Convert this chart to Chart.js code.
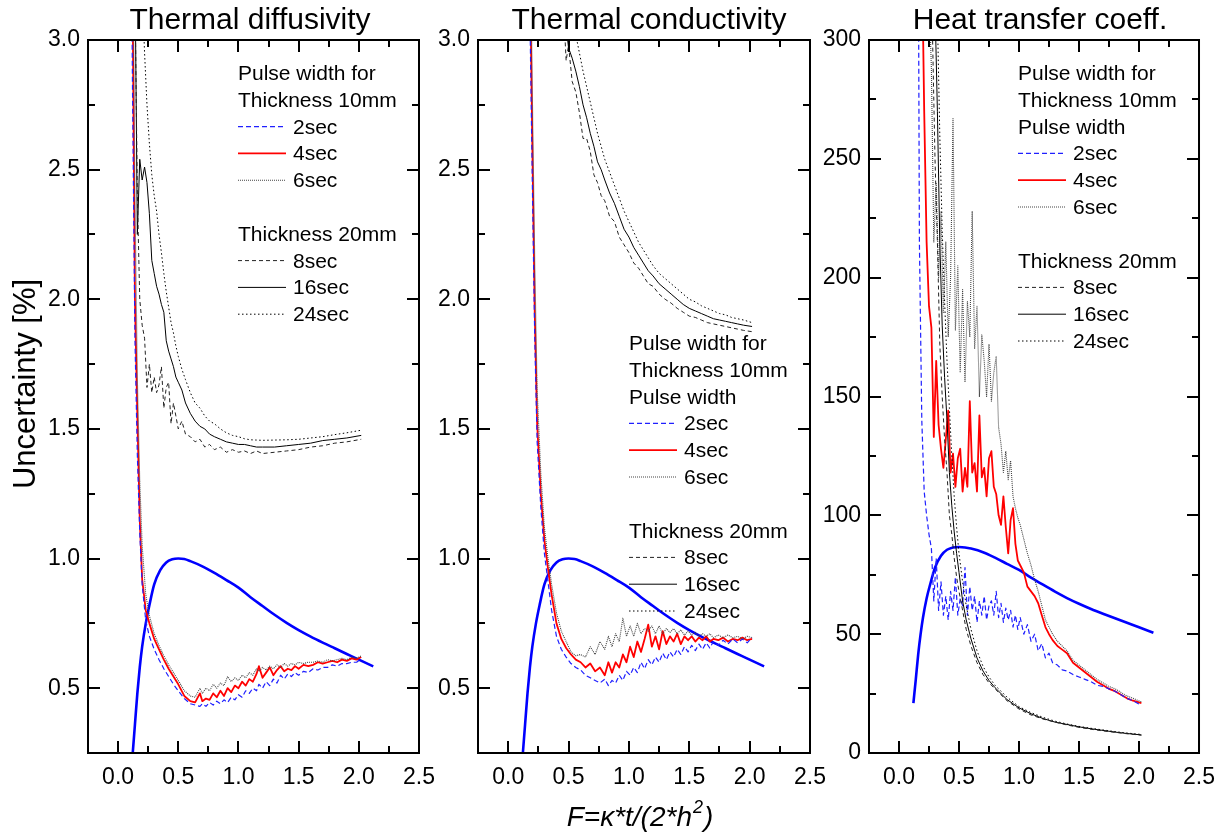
<!DOCTYPE html>
<html>
<head>
<meta charset="utf-8">
<script src="https://cdn.jsdelivr.net/npm/chart.js@4.4.1/dist/chart.umd.min.js"></script>
<style>
  html, body { margin: 0; padding: 0; background: #fff; }
  #wrap { position: relative; width: 1226px; height: 834px; }
  #wrap canvas { position: absolute; left: 0; top: 0; }
</style>
</head>
<body>
<div id="wrap">
  <canvas id="c1" width="1226" height="834"></canvas>
  <canvas id="c2" width="1226" height="834"></canvas>
  <canvas id="c3" width="1226" height="834"></canvas>
</div>
<script>
// ---- tick marks / labels ----
const xMajor = [0, 0.5, 1.0, 1.5, 2.0, 2.5];
const xMinor = [0.25, 0.75, 1.25, 1.75, 2.25];
const yMajorPct = [0.5, 1.0, 1.5, 2.0, 2.5, 3.0];
const yMinorPct = [0.75, 1.25, 1.75, 2.25, 2.75];
const yMajorHtc = [0, 50, 100, 150, 200, 250, 300];
const yMinorHtc = [25, 75, 125, 175, 225, 275];

// ---- thick blue reference curve ----
const peakX   = [0.12, 0.14, 0.16, 0.18, 0.20, 0.23, 0.26, 0.30, 0.35, 0.40, 0.45, 0.50, 0.55, 0.60, 0.70, 0.80, 0.90, 1.00, 1.10, 1.20, 1.30, 1.40, 1.50, 1.60, 1.70, 1.80, 1.90, 2.00, 2.12];
const peakPct = [0.24, 0.36, 0.48, 0.58, 0.66, 0.75, 0.82, 0.90, 0.955, 0.985, 0.997, 1.0, 0.998, 0.99, 0.97, 0.945, 0.917, 0.888, 0.851, 0.817, 0.783, 0.752, 0.724, 0.699, 0.676, 0.654, 0.632, 0.61, 0.584];
const peakHtc = [21, 31, 41.5, 50, 57, 65, 71, 78, 83, 85.5, 86.5, 86.7, 86.5, 86, 84.5, 82.2, 79.6, 77, 73.8, 70.8, 67.9, 65.2, 62.8, 60.6, 58.6, 56.7, 54.8, 52.9, 50.6];

// ---- Thermal diffusivity ----
const p1X10 = [0.10, 0.12, 0.14, 0.16, 0.18, 0.20, 0.23, 0.26, 0.30, 0.34, 0.38, 0.42, 0.46, 0.50, 0.55, 0.60, 0.64, 0.68, 0.70, 0.73, 0.76, 0.79, 0.82, 0.85, 0.88, 0.91, 0.94, 0.97, 1.00, 1.03, 1.06, 1.09, 1.12, 1.15, 1.17, 1.20, 1.23, 1.26, 1.29, 1.32, 1.35, 1.38, 1.41, 1.44, 1.47, 1.50, 1.54, 1.58, 1.62, 1.66, 1.70, 1.74, 1.78, 1.82, 1.86, 1.90, 1.94, 1.98, 2.02];
const p1Sec2 = [4.0, 2.8, 1.85, 1.4, 1.1, 0.9, 0.76, 0.70, 0.65, 0.61, 0.575, 0.545, 0.515, 0.49, 0.46, 0.44, 0.435, 0.43, 0.44, 0.43, 0.445, 0.435, 0.45, 0.44, 0.455, 0.445, 0.465, 0.455, 0.475, 0.465, 0.49, 0.48, 0.50, 0.49, 0.515, 0.50, 0.525, 0.51, 0.535, 0.52, 0.55, 0.535, 0.555, 0.545, 0.56, 0.55, 0.565, 0.56, 0.575, 0.57, 0.58, 0.58, 0.59, 0.585, 0.595, 0.595, 0.60, 0.60, 0.61];
const p1Sec4 = [4.5, 3.2, 2.0, 1.55, 1.15, 0.92, 0.80, 0.75, 0.69, 0.65, 0.61, 0.575, 0.545, 0.515, 0.47, 0.45, 0.445, 0.48, 0.45, 0.46, 0.455, 0.48, 0.465, 0.49, 0.47, 0.50, 0.485, 0.51, 0.50, 0.525, 0.51, 0.535, 0.525, 0.555, 0.585, 0.54, 0.56, 0.58, 0.55, 0.57, 0.585, 0.565, 0.575, 0.57, 0.585, 0.575, 0.59, 0.585, 0.59, 0.60, 0.595, 0.60, 0.605, 0.60, 0.61, 0.605, 0.615, 0.61, 0.62];
const p1Sec6 = [5.0, 3.6, 2.4, 1.7, 1.3, 1.05, 0.86, 0.78, 0.71, 0.665, 0.625, 0.59, 0.56, 0.53, 0.49, 0.47, 0.465, 0.50, 0.48, 0.50, 0.49, 0.515, 0.50, 0.52, 0.51, 0.545, 0.525, 0.54, 0.53, 0.55, 0.54, 0.56, 0.55, 0.575, 0.565, 0.58, 0.57, 0.585, 0.575, 0.59, 0.58, 0.595, 0.585, 0.595, 0.59, 0.60, 0.595, 0.60, 0.60, 0.605, 0.60, 0.61, 0.605, 0.61, 0.615, 0.61, 0.62, 0.615, 0.625];
const p1X20 = [0.12, 0.14, 0.16, 0.18, 0.20, 0.22, 0.24, 0.26, 0.28, 0.30, 0.32, 0.34, 0.36, 0.38, 0.40, 0.42, 0.44, 0.46, 0.48, 0.50, 0.53, 0.56, 0.60, 0.64, 0.68, 0.72, 0.76, 0.80, 0.85, 0.90, 0.95, 1.00, 1.05, 1.10, 1.15, 1.20, 1.30, 1.40, 1.50, 1.60, 1.70, 1.80, 1.90, 2.02];
const p1Sec8 = [4.5, 3.2, 2.4, 2.0, 1.9, 1.85, 1.66, 1.75, 1.64, 1.70, 1.64, 1.67, 1.74, 1.58, 1.66, 1.68, 1.52, 1.60, 1.55, 1.50, 1.53, 1.48, 1.47, 1.45, 1.46, 1.43, 1.44, 1.42, 1.43, 1.41, 1.42, 1.41, 1.415, 1.405, 1.415, 1.405, 1.41, 1.415, 1.42, 1.43, 1.435, 1.445, 1.45, 1.46];
const p1Sec16 = [4.0, 3.3, 2.25, 2.54, 2.46, 2.51, 2.45, 2.33, 2.15, 2.1, 2.05, 2.02, 1.98, 1.95, 1.84, 1.8, 1.77, 1.74, 1.7, 1.68, 1.65, 1.6, 1.56, 1.53, 1.51, 1.5, 1.48, 1.47, 1.46, 1.45, 1.445, 1.44, 1.44, 1.435, 1.43, 1.43, 1.43, 1.435, 1.44, 1.445, 1.455, 1.46, 1.465, 1.475];
const p1Sec24 = [6.0, 5.0, 4.2, 3.6, 3.2, 2.95, 2.75, 2.6, 2.48, 2.4, 2.34, 2.25, 2.18, 2.1, 2.03, 1.97, 1.91, 1.87, 1.82, 1.78, 1.73, 1.69, 1.64, 1.6, 1.58, 1.55, 1.53, 1.52, 1.5, 1.485, 1.475, 1.47, 1.462, 1.458, 1.457, 1.456, 1.457, 1.458, 1.46, 1.465, 1.47, 1.478, 1.485, 1.495];

// ---- Thermal conductivity ----
const p2X10 = [0.15, 0.18, 0.20, 0.22, 0.24, 0.27, 0.30, 0.33, 0.36, 0.40, 0.44, 0.48, 0.52, 0.56, 0.60, 0.64, 0.68, 0.72, 0.76, 0.80, 0.83, 0.86, 0.89, 0.92, 0.95, 0.98, 1.01, 1.04, 1.07, 1.10, 1.13, 1.16, 1.19, 1.22, 1.25, 1.28, 1.31, 1.34, 1.37, 1.40, 1.43, 1.46, 1.49, 1.52, 1.55, 1.58, 1.61, 1.64, 1.67, 1.70, 1.74, 1.78, 1.82, 1.86, 1.90, 1.94, 1.98, 2.02];
const p2Sec2 = [4.2, 3.1, 2.45, 1.85, 1.45, 1.2, 1.02, 0.91, 0.80, 0.70, 0.65, 0.62, 0.595, 0.58, 0.57, 0.55, 0.54, 0.53, 0.52, 0.535, 0.51, 0.53, 0.52, 0.55, 0.53, 0.565, 0.55, 0.58, 0.56, 0.60, 0.575, 0.61, 0.59, 0.62, 0.60, 0.635, 0.61, 0.64, 0.62, 0.65, 0.63, 0.66, 0.64, 0.665, 0.645, 0.67, 0.65, 0.675, 0.655, 0.68, 0.665, 0.685, 0.67, 0.69, 0.675, 0.69, 0.675, 0.695];
const p2Sec4 = [4.5, 3.3, 2.6, 1.95, 1.52, 1.25, 1.07, 0.96, 0.86, 0.75, 0.69, 0.655, 0.63, 0.61, 0.60, 0.58, 0.595, 0.565, 0.58, 0.55, 0.60, 0.56, 0.60, 0.58, 0.63, 0.60, 0.66, 0.62, 0.68, 0.64, 0.69, 0.745, 0.66, 0.70, 0.65, 0.72, 0.67, 0.70, 0.68, 0.71, 0.67, 0.70, 0.685, 0.70, 0.68, 0.695, 0.685, 0.70, 0.68, 0.69, 0.685, 0.695, 0.68, 0.69, 0.685, 0.695, 0.685, 0.69];
const p2Sec6 = [5.0, 3.6, 2.8, 2.15, 1.65, 1.33, 1.12, 1.0, 0.90, 0.79, 0.72, 0.68, 0.64, 0.625, 0.63, 0.62, 0.66, 0.63, 0.68, 0.65, 0.70, 0.66, 0.71, 0.68, 0.77, 0.70, 0.74, 0.70, 0.75, 0.71, 0.73, 0.72, 0.74, 0.71, 0.74, 0.71, 0.73, 0.715, 0.73, 0.71, 0.725, 0.705, 0.72, 0.705, 0.715, 0.70, 0.71, 0.70, 0.71, 0.695, 0.705, 0.695, 0.705, 0.695, 0.70, 0.69, 0.70, 0.695];
const p2X20 = [0.40, 0.45, 0.48, 0.50, 0.53, 0.56, 0.59, 0.62, 0.65, 0.68, 0.71, 0.74, 0.77, 0.80, 0.84, 0.88, 0.92, 0.96, 1.00, 1.04, 1.08, 1.12, 1.16, 1.20, 1.25, 1.30, 1.35, 1.40, 1.45, 1.50, 1.55, 1.60, 1.65, 1.70, 1.75, 1.80, 1.85, 1.90, 1.95, 2.02];
const p2Sec8 = [3.8, 3.2, 2.92, 2.98, 2.84, 2.8, 2.72, 2.62, 2.62, 2.57, 2.48, 2.45, 2.4, 2.38, 2.32, 2.3, 2.24, 2.21, 2.18, 2.14, 2.12, 2.09, 2.06, 2.05, 2.02, 2.0, 1.985, 1.965, 1.95, 1.935, 1.93, 1.92, 1.91, 1.905, 1.9, 1.895, 1.89, 1.885, 1.88, 1.875];
const p2Sec16 = [4.0, 3.3, 3.05, 2.97, 2.93, 2.88, 2.82, 2.75, 2.7, 2.64, 2.59, 2.53, 2.5, 2.46, 2.41, 2.37, 2.32, 2.27, 2.24, 2.2, 2.17, 2.14, 2.11, 2.09, 2.06, 2.04, 2.02, 2.0, 1.98, 1.965, 1.955, 1.945, 1.935, 1.925, 1.92, 1.915, 1.91, 1.905, 1.9, 1.895];
const p2Sec24 = [4.5, 3.7, 3.35, 3.2, 3.1, 3.02, 2.95, 2.88, 2.82, 2.76, 2.7, 2.64, 2.59, 2.54, 2.49, 2.44, 2.39, 2.34, 2.3, 2.26, 2.22, 2.19, 2.16, 2.13, 2.1, 2.08, 2.06, 2.04, 2.02, 2.0, 1.99, 1.975, 1.965, 1.955, 1.945, 1.94, 1.93, 1.925, 1.92, 1.91];

// ---- Heat transfer coeff. ----
const p3X10 = [0.15, 0.17, 0.19, 0.21, 0.23, 0.25, 0.27, 0.29, 0.31, 0.33, 0.35, 0.37, 0.39, 0.41, 0.43, 0.45, 0.47, 0.49, 0.51, 0.53, 0.55, 0.57, 0.59, 0.61, 0.63, 0.65, 0.67, 0.69, 0.71, 0.73, 0.75, 0.77, 0.79, 0.81, 0.83, 0.85, 0.87, 0.89, 0.91, 0.93, 0.95, 0.97, 0.99, 1.01, 1.04, 1.07, 1.10, 1.13, 1.16, 1.19, 1.22, 1.25, 1.28, 1.32, 1.36, 1.40, 1.45, 1.50, 1.55, 1.60, 1.65, 1.70, 1.75, 1.80, 1.85, 1.90, 1.95, 2.02];
const p3Sec2 = [500, 215, 140, 110, 100, 92, 86, 64, 82, 60, 72, 58, 66, 56, 68, 60, 74, 58, 65, 62, 78, 58, 70, 60, 66, 55, 64, 58, 66, 56, 62, 64, 58, 68, 57, 63, 55, 61, 56, 60, 53, 58, 52, 57, 50, 54, 47, 50, 43, 46, 40, 42, 38, 37, 35, 34.5, 33, 32, 31, 30, 28.5, 28, 27, 26, 24.5, 23, 22, 20];
const p3Sec4 = [600, 450, 340, 270, 215, 188, 179, 133, 165, 138, 128, 120, 132, 144, 118, 126, 112, 124, 128, 110, 120, 112, 148, 118, 122, 110, 142, 116, 120, 108, 124, 127, 112, 109, 100, 96, 108, 95, 84, 98, 103, 88, 81, 79, 76, 70, 68, 66, 63, 58, 53, 50, 47.5, 45, 43.5, 42, 38, 36, 34, 32, 30, 28.5, 27, 26, 24.5, 23, 22, 21];
const p3Sec6 = [900, 700, 550, 450, 380, 320, 288, 215, 240, 200, 228, 185, 215, 175, 200, 267, 178, 205, 160, 195, 156, 190, 175, 228, 170, 188, 150, 176, 165, 150, 172, 148, 160, 167, 137, 130, 118, 127, 115, 123, 108, 103, 99, 96, 90, 84, 79, 73, 68, 62, 56, 53, 50, 47, 45, 43, 39, 37, 35, 33, 31, 29.5, 28, 27, 25.5, 24, 23, 21.5];
const p3X20 = [0.22, 0.25, 0.28, 0.30, 0.32, 0.34, 0.36, 0.38, 0.40, 0.42, 0.44, 0.46, 0.48, 0.50, 0.53, 0.56, 0.60, 0.65, 0.70, 0.75, 0.80, 0.85, 0.90, 1.00, 1.10, 1.20, 1.30, 1.40, 1.50, 1.60, 1.70, 1.80, 1.90, 2.02];
const p3Sec8 = [500, 380, 300, 250, 215, 172, 150, 132, 118, 100, 92, 82, 74, 68, 60, 52, 45, 38, 33, 29.5, 27, 24.5, 22, 18.5, 16, 14.3, 13, 11.8, 10.8, 10, 9.3, 8.7, 8.1, 7.5];
const p3Sec16 = [600, 450, 360, 315, 270, 215, 180, 158, 140, 118, 104, 93, 84, 76, 64, 56, 48, 40, 34.5, 30.5, 27.5, 25, 22.5, 19, 16.5, 14.5, 13, 12, 11, 10.2, 9.5, 8.8, 8.2, 7.6];
const p3Sec24 = [800, 600, 460, 380, 310, 260, 220, 190, 165, 145, 125, 108, 95, 84, 72, 62, 52, 43, 36.5, 32, 28.5, 26, 23.5, 19.5, 17, 15, 13.4, 12.2, 11.2, 10.4, 9.7, 9, 8.4, 7.8];

// ---- legend text ----
const legendShort = [['h', 'Pulse width for'], ['h', 'Thickness 10mm'], ['s', '2sec', 's2'], ['s', '4sec', 's4'], ['s', '6sec', 's6'], ['g'], ['h', 'Thickness 20mm'], ['s', '8sec', 's8'], ['s', '16sec', 's16'], ['s', '24sec', 's24']];
const legendLong = [['h', 'Pulse width for'], ['h', 'Thickness 10mm'], ['h', 'Pulse width'], ['s', '2sec', 's2'], ['s', '4sec', 's4'], ['s', '6sec', 's6'], ['g'], ['h', 'Thickness 20mm'], ['s', '8sec', 's8'], ['s', '16sec', 's16'], ['s', '24sec', 's24']];

const FONT = '"Liberation Sans", Arial, Helvetica, sans-serif';
const W = 1226, H = 834, TOP = 40, BOTTOM = 753;

const STY = {
  peak: { borderColor: '#0000ff', borderWidth: 2.6, borderDash: [], cubicInterpolationMode: 'monotone' },
  s2:   { borderColor: '#2020ff', borderWidth: 1.2, borderDash: [5, 3] },
  s4:   { borderColor: '#ff0000', borderWidth: 1.8, borderDash: [] },
  s6:   { borderColor: '#444444', borderWidth: 1.1, borderDash: [1, 1] },
  s8:   { borderColor: '#222222', borderWidth: 1, borderDash: [4, 3] },
  s16:  { borderColor: '#000000', borderWidth: 1, borderDash: [] },
  s24:  { borderColor: '#000000', borderWidth: 1, borderDash: [1.5, 2.5] }
};

function line(xs, ys, key) {
  return Object.assign({
    data: xs.map((x, i) => ({ x: x, y: ys[i] })),
    pointRadius: 0, fill: false, tension: 0, borderJoinStyle: 'round'
  }, STY[key]);
}

function decor(cfg) {
  return {
    id: 'decor',
    afterDraw(chart) {
      const ctx = chart.ctx, a = chart.chartArea, x = chart.scales.x, y = chart.scales.y;
      ctx.save();
      ctx.strokeStyle = '#000';
      ctx.lineWidth = 2;
      ctx.setLineDash([]);
      ctx.strokeRect(a.left, a.top, a.right - a.left, a.bottom - a.top);
      ctx.beginPath();
      const xt = (vals, len) => vals.forEach(v => {
        const p = Math.round(x.getPixelForValue(v));
        ctx.moveTo(p, a.bottom); ctx.lineTo(p, a.bottom - len);
        ctx.moveTo(p, a.top); ctx.lineTo(p, a.top + len);
      });
      const yt = (vals, len) => vals.forEach(v => {
        const p = Math.round(y.getPixelForValue(v));
        ctx.moveTo(a.left, p); ctx.lineTo(a.left + len, p);
        ctx.moveTo(a.right, p); ctx.lineTo(a.right - len, p);
      });
      xt(xMajor, 12); xt(xMinor, 7);
      yt(cfg.yMajor, 12); yt(cfg.yMinor, 7);
      ctx.stroke();

      ctx.fillStyle = '#000';
      ctx.textAlign = 'center';
      ctx.textBaseline = 'alphabetic';
      ctx.font = '30px ' + FONT;
      ctx.fillText(cfg.title, cfg.titleX, 29);

      // legend
      ctx.font = '21px ' + FONT;
      ctx.textAlign = 'left';
      cfg.legend.forEach((it, i) => {
        const by = cfg.legY + i * 26.8;
        if (it[0] === 'h') ctx.fillText(it[1], cfg.legX, by);
        if (it[0] === 's') {
          const st = STY[it[2]];
          ctx.save();
          ctx.strokeStyle = st.borderColor;
          ctx.lineWidth = st.borderWidth;
          ctx.setLineDash(st.borderDash);
          ctx.beginPath();
          ctx.moveTo(cfg.legX, by - 7); ctx.lineTo(cfg.legX + 48, by - 7);
          ctx.stroke();
          ctx.restore();
          ctx.fillText(it[1], cfg.legX + 55, by);
        }
      });

      if (cfg.yTitle) {
        ctx.save();
        ctx.translate(26, 384);
        ctx.rotate(-Math.PI / 2);
        ctx.textAlign = 'center';
        ctx.textBaseline = 'middle';
        ctx.font = '31px ' + FONT;
        ctx.fillText('Uncertainty [%]', 0, 0);
        ctx.restore();
      }
      if (cfg.xTitle) {
        const big = 'italic 28px ' + FONT, small = 'italic 18px ' + FONT;
        const t1 = 'F=\u03ba*t/(2*h', t2 = '2', t3 = ')';
        ctx.font = big; const w1 = ctx.measureText(t1).width, w3 = ctx.measureText(t3).width;
        ctx.font = small; const w2 = ctx.measureText(t2).width;
        const sx = 639 - (w1 + w2 + w3) / 2;
        ctx.textAlign = 'left';
        ctx.font = big; ctx.fillText(t1, sx, 826);
        ctx.font = small; ctx.fillText(t2, sx + w1 + 1, 813);
        ctx.font = big; ctx.fillText(t3, sx + w1 + w2 + 2, 826);
      }
      ctx.restore();
    }
  };
}

function panel(id, left, right, yMin, yMax, yMajor, dec, datasets, cfg) {
  cfg.yMajor = yMajor;
  return new Chart(document.getElementById(id), {
    type: 'line',
    data: { datasets: datasets },
    options: {
      responsive: false,
      animation: false,
      devicePixelRatio: 1,
      layout: { padding: { left: left - 60, right: W - right, top: TOP, bottom: H - BOTTOM - 45 } },
      plugins: { legend: { display: false }, tooltip: { enabled: false }, title: { display: false } },
      scales: {
        x: {
          type: 'linear', min: -0.25, max: 2.5,
          afterBuildTicks: s => { s.ticks = xMajor.map(v => ({ value: v })); },
          afterFit: s => { s.height = 45; },
          grid: { display: false, drawTicks: false },
          border: { display: false },
          ticks: { padding: 11, color: '#000', font: { family: FONT, size: 23 }, autoSkip: false, maxRotation: 0,
                   callback: v => Number(v).toFixed(1) }
        },
        y: {
          type: 'linear', min: yMin, max: yMax,
          afterBuildTicks: s => { s.ticks = yMajor.map(v => ({ value: v })); },
          afterFit: s => { s.width = 60; },
          grid: { display: false, drawTicks: false },
          border: { display: false },
          ticks: { padding: 8, color: '#000', font: { family: FONT, size: 23 }, autoSkip: false,
                   callback: v => Number(v).toFixed(dec) }
        }
      }
    },
    plugins: [decor(cfg)]
  });
}

panel('c1', 88, 419, 0.25, 3.0, yMajorPct, 1, [
  line(p1X20, p1Sec8, 's8'), line(p1X20, p1Sec16, 's16'), line(p1X20, p1Sec24, 's24'),
  line(p1X10, p1Sec6, 's6'), line(p1X10, p1Sec2, 's2'), line(p1X10, p1Sec4, 's4'),
  line(peakX, peakPct, 'peak')
], { title: 'Thermal diffusivity', titleX: 250, yMinor: yMinorPct, legend: legendShort, legX: 238, legY: 80, yTitle: true });

panel('c2', 478, 810, 0.25, 3.0, yMajorPct, 1, [
  line(p2X20, p2Sec8, 's8'), line(p2X20, p2Sec16, 's16'), line(p2X20, p2Sec24, 's24'),
  line(p2X10, p2Sec6, 's6'), line(p2X10, p2Sec2, 's2'), line(p2X10, p2Sec4, 's4'),
  line(peakX, peakPct, 'peak')
], { title: 'Thermal conductivity', titleX: 649, yMinor: yMinorPct, legend: legendLong, legX: 629, legY: 350, xTitle: true });

panel('c3', 869, 1202, 0, 300, yMajorHtc, 0, [
  line(p3X20, p3Sec8, 's8'), line(p3X20, p3Sec16, 's16'), line(p3X20, p3Sec24, 's24'),
  line(p3X10, p3Sec6, 's6'), line(p3X10, p3Sec2, 's2'), line(p3X10, p3Sec4, 's4'),
  line(peakX, peakHtc, 'peak')
], { title: 'Heat transfer coeff.', titleX: 1040, yMinor: yMinorHtc, legend: legendLong, legX: 1018, legY: 80 });
</script>
</body>
</html>
